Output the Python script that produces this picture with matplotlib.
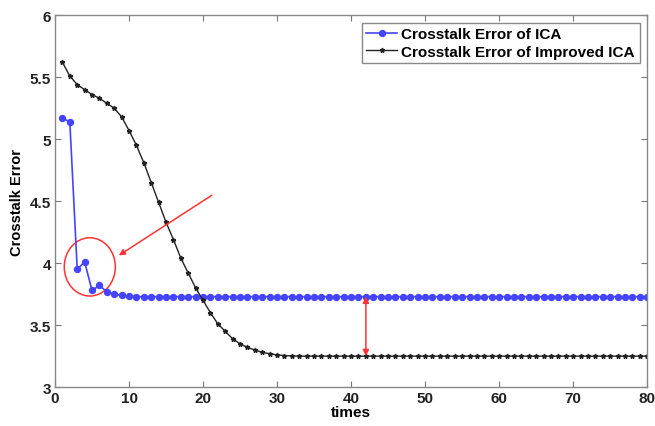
import matplotlib
matplotlib.use("Agg")
import matplotlib.pyplot as plt
from matplotlib.patches import Ellipse
import numpy as np

plt.rcParams['font.family'] = ['Liberation Sans', 'DejaVu Sans']

times = list(range(1, 81))
ica_head = [5.17, 5.14, 3.95, 4.01, 3.78, 3.82, 3.77, 3.75, 3.74, 3.735]
ica = ica_head + [3.73] * (80 - len(ica_head))

imp_head = [5.62, 5.51, 5.44, 5.40, 5.36, 5.33, 5.29, 5.25, 5.18, 5.07,
            4.95, 4.81, 4.65, 4.49, 4.33, 4.19, 4.04, 3.92, 3.80, 3.70,
            3.60, 3.51, 3.45, 3.39, 3.35, 3.32, 3.30, 3.28, 3.27, 3.26,
            3.255, 3.252]
imp = imp_head + [3.25] * (80 - len(imp_head))

xticks = [0, 10, 20, 30, 40, 50, 60, 70, 80]
yticks = [3, 3.5, 4, 4.5, 5, 5.5, 6]
ytick_labels = ['3', '3.5', '4', '4.5', '5', '5.5', '6']

fig = plt.figure(figsize=(6.55, 4.27), dpi=100)
ax = fig.add_axes([0.084, 0.091, 0.904, 0.871])

ax.plot(times, ica, color='#4444ff', marker='o', markersize=4.5, linewidth=1.2,
        markeredgewidth=0.8, label='Crosstalk Error of ICA')
ax.plot(times, imp, color='#222222', marker='*', markersize=3.5, linewidth=1.0,
        label='Crosstalk Error of Improved ICA')

# annotations
ax.add_patch(Ellipse((4.7, 3.97), 6.9, 0.47, fill=False, edgecolor='#ff3333', linewidth=1.1))
ax.annotate('', xy=(8.3, 4.05), xytext=(21.5, 4.56),
            arrowprops=dict(arrowstyle='-|>', color='#ff3333', lw=1.1, mutation_scale=9))
ax.annotate('', xy=(42, 3.25), xytext=(42, 3.73),
            arrowprops=dict(arrowstyle='<|-|>', color='#ff3333', lw=1.1, mutation_scale=9,
                            shrinkA=0, shrinkB=0))

ax.set_xlim(0, 80)
ax.set_ylim(3, 6)
ax.set_xticks(xticks)
ax.set_yticks(yticks)
ax.set_yticklabels(ytick_labels)
ax.tick_params(direction='in', top=True, right=True, length=4, color='#777777',
               labelsize=11, pad=3)
for lbl in ax.get_xticklabels() + ax.get_yticklabels():
    lbl.set_fontweight('bold')
    lbl.set_color('#222222')
for sp in ax.spines.values():
    sp.set_color('#888888')
    sp.set_linewidth(1.0)

ax.set_xlabel('times', fontsize=11, fontweight='bold', labelpad=0)
ax.set_ylabel('Crosstalk Error', fontsize=10.5, fontweight='bold', labelpad=4)

leg = ax.legend(loc='upper right', fancybox=False, framealpha=1, edgecolor='#888888',
                prop={'weight': 'bold', 'size': 11}, handlelength=2.0, handletextpad=0.3,
                borderaxespad=0.5, borderpad=0.3, labelspacing=0.2)
leg.get_frame().set_linewidth(1.0)

fig.savefig('out.png', dpi=100)
